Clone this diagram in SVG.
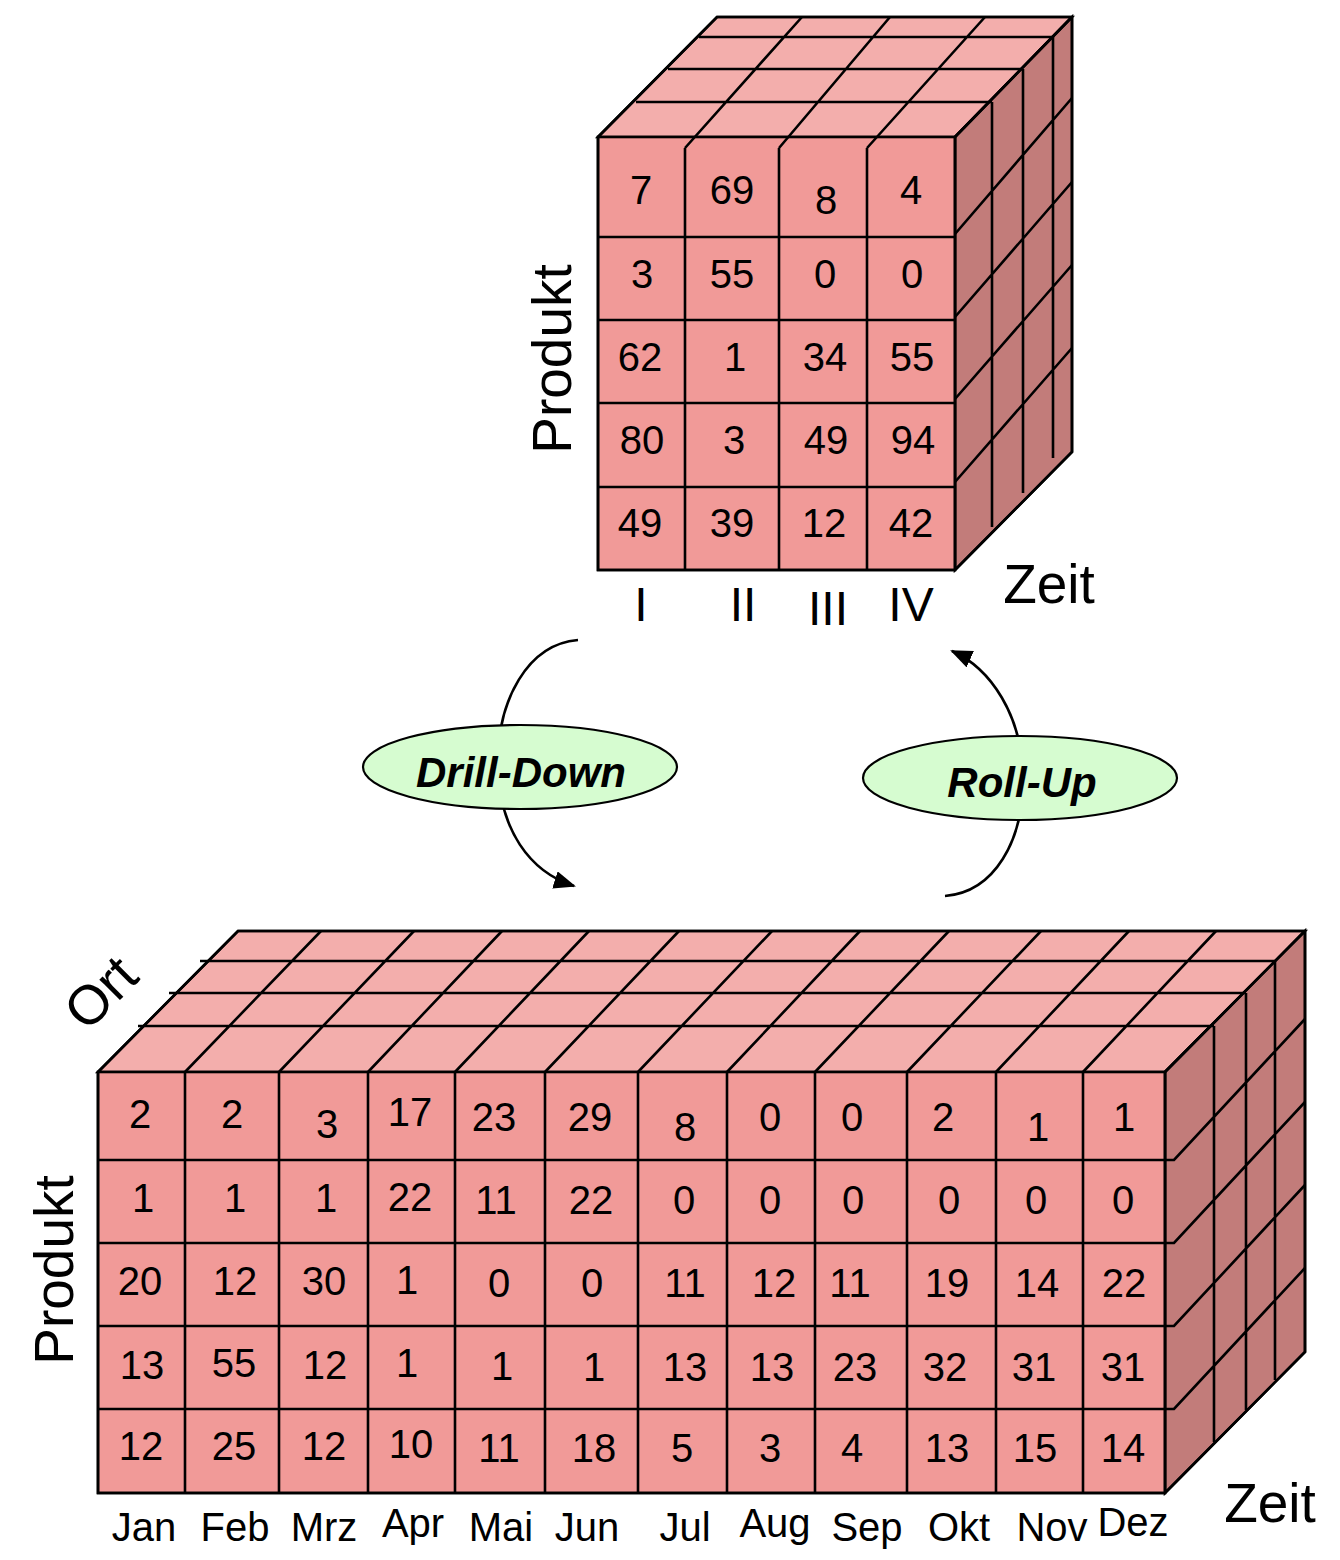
<svg xmlns="http://www.w3.org/2000/svg" width="1340" height="1560" viewBox="0 0 1340 1560">
<style>
.front{fill:#F19A98;stroke:#000;stroke-width:2.6;stroke-linejoin:miter}
.top{fill:#F3AEAC;stroke:#000;stroke-width:2.6;stroke-linejoin:miter}
.side{fill:#C27C7A;stroke:#000;stroke-width:2.6;stroke-linejoin:miter}
.grid{fill:none;stroke:#000;stroke-width:2.6}
.num{font-family:"Liberation Sans",Arial,Helvetica,sans-serif;font-size:40px;text-anchor:middle;fill:#000}
.lbl{font-family:"Liberation Sans",Arial,Helvetica,sans-serif;font-size:55px;text-anchor:middle;fill:#000}
.rom{font-family:"Liberation Sans",Arial,Helvetica,sans-serif;font-size:48px;text-anchor:middle;fill:#000}
.op{font-family:"Liberation Sans",Arial,Helvetica,sans-serif;font-size:42px;font-weight:bold;font-style:italic;text-anchor:middle;fill:#000}
.oval{fill:#D6FCD0;stroke:#000;stroke-width:2.2}
.conn{fill:none;stroke:#000;stroke-width:2.6}
</style>
<defs>
<marker id="arrow" viewBox="0 0 22 18" refX="20" refY="9" markerWidth="22" markerHeight="18" markerUnits="userSpaceOnUse" orient="auto">
<path d="M0,0 L22,9 L0,18 z" fill="#000"/>
</marker>
</defs>

<g id="connectors">
<path id="conn-drill-down" class="conn" d="M578,640 C528,644 497,700 498,765 C499,830 530,872 574,886" marker-end="url(#arrow)"/>
<path id="conn-roll-up" class="conn" d="M945,896 C995,892 1023,840 1023,780 C1023,715 990,668 952,651" marker-end="url(#arrow)"/>
</g>

<g id="cube-quartal">
<polygon class="top" points="598,137 717,17 1072,17 955,137"/>
<polygon class="side" points="955,137 1072,17 1072,452 955,570"/>
<rect class="front" x="598" y="137" width="357" height="433"/>
<path class="grid" d="M636,102 H992 M668,69 H1023 M699,37 H1053
M685,148 L802,17 M779,148 L890,17 M867,148 L985,17
M685,148 V570 M779,148 V570 M867,148 V570
M598,237 H955 M598,320 H955 M598,403 H955 M598,487 H955
M992,102 V527 M1023,69 V493 M1053,37 V458
M955,234 L1072,98 M955,317 L1072,182 M955,399 L1072,265 M955,482 L1072,348"/>
<polygon points="598,137 717,17 1072,17 1072,452 955,570 598,570" fill="none" stroke="#000" stroke-width="2.6"/>
<line x1="955" y1="137" x2="955" y2="570" stroke="#000" stroke-width="2.6"/>
<line x1="955" y1="137" x2="1072" y2="17" stroke="#000" stroke-width="2.6"/>
<text class="num" x="641" y="204">7</text>
<text class="num" x="732" y="204">69</text>
<text class="num" x="826" y="214">8</text>
<text class="num" x="911" y="204">4</text>
<text class="num" x="642" y="288">3</text>
<text class="num" x="732" y="288">55</text>
<text class="num" x="825" y="288">0</text>
<text class="num" x="912" y="288">0</text>
<text class="num" x="640" y="371">62</text>
<text class="num" x="735" y="371">1</text>
<text class="num" x="825" y="371">34</text>
<text class="num" x="912" y="371">55</text>
<text class="num" x="642" y="454">80</text>
<text class="num" x="734" y="454">3</text>
<text class="num" x="826" y="454">49</text>
<text class="num" x="913" y="454">94</text>
<text class="num" x="640" y="537">49</text>
<text class="num" x="732" y="537">39</text>
<text class="num" x="824" y="537">12</text>
<text class="num" x="911" y="537">42</text>
<text class="rom" x="641" y="621">I</text>
<text class="rom" x="743" y="621">II</text>
<text class="rom" x="828" y="625">III</text>
<text class="rom" x="911" y="621">IV</text>
<text class="lbl" transform="translate(571,359) rotate(-90)">Produkt</text>
<text class="lbl" x="1049" y="603">Zeit</text>
</g>

<g id="drill-down">
<ellipse class="oval" cx="520" cy="767" rx="157" ry="42"/>
<text class="op" x="521" y="787">Drill-Down</text>
</g>

<g id="roll-up">
<ellipse class="oval" cx="1020" cy="778" rx="157" ry="42"/>
<text class="op" x="1022" y="797">Roll-Up</text>
</g>

<g id="cube-monat">
<polygon class="top" points="98,1072 238,931 1305,931 1165,1072"/>
<polygon class="side" points="1165,1072 1305,931 1305,1352 1165,1493"/>
<rect class="front" x="98" y="1072" width="1067" height="421"/>
<path class="grid" d="M200,961 H1275 M169,993 H1246 M138,1026 H1214
M185,1072 L321,931 M279,1072 L414,931 M368,1072 L502,931 M455,1072 L589,931 M545,1072 L679,931 M638,1072 L772,931 M727,1072 L860,931 M815,1072 L949,931 M907,1072 L1041,931 M996,1072 L1129,931 M1083,1072 L1216,931
M185,1072 V1493 M279,1072 V1493 M368,1072 V1493 M455,1072 V1493 M545,1072 V1493 M638,1072 V1493 M727,1072 V1493 M815,1072 V1493 M907,1072 V1493 M996,1072 V1493 M1083,1072 V1493
M98,1160 H1174 L1305,1019 M98,1243 H1174 L1305,1102 M98,1326 H1174 L1305,1185 M98,1409 H1174 L1305,1268
M1214,1026 V1442 M1246,993 V1410 M1275,961 V1380"/>
<polygon points="98,1072 238,931 1305,931 1305,1352 1165,1493 98,1493" fill="none" stroke="#000" stroke-width="2.6"/>
<line x1="1165" y1="1072" x2="1165" y2="1493" stroke="#000" stroke-width="2.6"/>
<line x1="1165" y1="1072" x2="1305" y2="931" stroke="#000" stroke-width="2.6"/>
<text class="num" x="140" y="1128">2</text>
<text class="num" x="232" y="1128">2</text>
<text class="num" x="327" y="1138">3</text>
<text class="num" x="410" y="1126">17</text>
<text class="num" x="494" y="1131">23</text>
<text class="num" x="590" y="1131">29</text>
<text class="num" x="685" y="1141">8</text>
<text class="num" x="770" y="1131">0</text>
<text class="num" x="852" y="1131">0</text>
<text class="num" x="943" y="1131">2</text>
<text class="num" x="1038" y="1141">1</text>
<text class="num" x="1124" y="1131">1</text>
<text class="num" x="143" y="1212">1</text>
<text class="num" x="235" y="1212">1</text>
<text class="num" x="326" y="1212">1</text>
<text class="num" x="410" y="1211">22</text>
<text class="num" x="496" y="1214">11</text>
<text class="num" x="591" y="1214">22</text>
<text class="num" x="684" y="1214">0</text>
<text class="num" x="770" y="1214">0</text>
<text class="num" x="853" y="1214">0</text>
<text class="num" x="949" y="1214">0</text>
<text class="num" x="1036" y="1214">0</text>
<text class="num" x="1123" y="1214">0</text>
<text class="num" x="140" y="1295">20</text>
<text class="num" x="235" y="1295">12</text>
<text class="num" x="324" y="1295">30</text>
<text class="num" x="407" y="1294">1</text>
<text class="num" x="499" y="1297">0</text>
<text class="num" x="592" y="1297">0</text>
<text class="num" x="685" y="1297">11</text>
<text class="num" x="774" y="1297">12</text>
<text class="num" x="850" y="1297">11</text>
<text class="num" x="947" y="1297">19</text>
<text class="num" x="1037" y="1297">14</text>
<text class="num" x="1124" y="1297">22</text>
<text class="num" x="142" y="1379">13</text>
<text class="num" x="234" y="1377">55</text>
<text class="num" x="325" y="1379">12</text>
<text class="num" x="407" y="1377">1</text>
<text class="num" x="502" y="1380">1</text>
<text class="num" x="594" y="1381">1</text>
<text class="num" x="685" y="1381">13</text>
<text class="num" x="772" y="1381">13</text>
<text class="num" x="855" y="1381">23</text>
<text class="num" x="945" y="1381">32</text>
<text class="num" x="1034" y="1381">31</text>
<text class="num" x="1123" y="1381">31</text>
<text class="num" x="141" y="1460">12</text>
<text class="num" x="234" y="1460">25</text>
<text class="num" x="324" y="1460">12</text>
<text class="num" x="411" y="1458">10</text>
<text class="num" x="499" y="1462">11</text>
<text class="num" x="594" y="1462">18</text>
<text class="num" x="682" y="1462">5</text>
<text class="num" x="770" y="1462">3</text>
<text class="num" x="852" y="1462">4</text>
<text class="num" x="947" y="1462">13</text>
<text class="num" x="1035" y="1462">15</text>
<text class="num" x="1123" y="1462">14</text>
<text class="num" x="144" y="1541">Jan</text>
<text class="num" x="235" y="1541">Feb</text>
<text class="num" x="324" y="1541">Mrz</text>
<text class="num" x="413" y="1537">Apr</text>
<text class="num" x="501" y="1541">Mai</text>
<text class="num" x="587" y="1541">Jun</text>
<text class="num" x="685" y="1541">Jul</text>
<text class="num" x="775" y="1537">Aug</text>
<text class="num" x="867" y="1541">Sep</text>
<text class="num" x="959" y="1541">Okt</text>
<text class="num" x="1052" y="1541">Nov</text>
<text class="num" x="1133" y="1536">Dez</text>
<text class="lbl" transform="translate(73,1270) rotate(-90)">Produkt</text>
<text class="lbl" transform="translate(114,1006) rotate(-45)">Ort</text>
<text class="lbl" x="1270" y="1522">Zeit</text>
</g>
</svg>
